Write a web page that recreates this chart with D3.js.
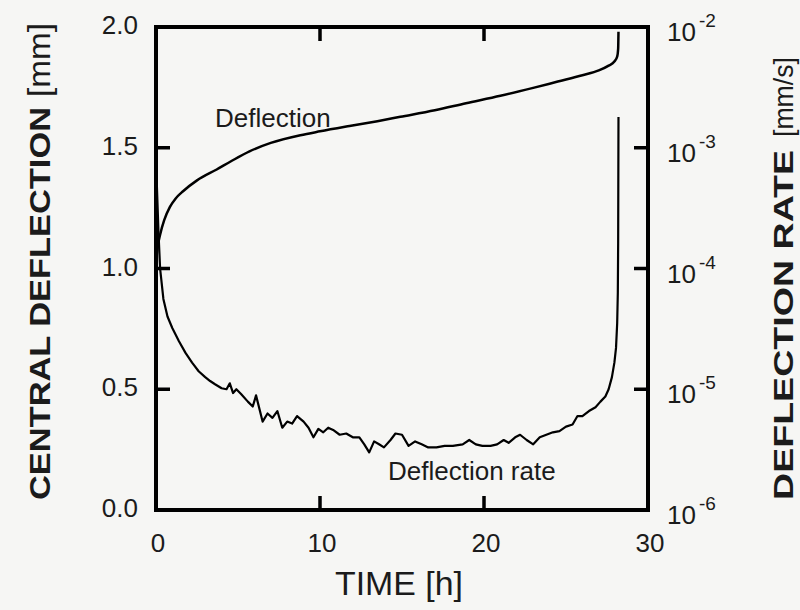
<!DOCTYPE html>
<html>
<head>
<meta charset="utf-8">
<script src="https://cdn.jsdelivr.net/npm/d3@7"></script>
<style>
  html, body { margin: 0; padding: 0; background: #f6f6f4; }
  svg { display: block; font-family: "Liberation Sans", Arial, sans-serif; }
</style>
</head>
<body>
<svg id="chart" width="800" height="610"></svg>
<script>
// ---- data ----
const timeTicks = [0, 10, 20, 30];
const deflTicks = [0.0, 0.5, 1.0, 1.5, 2.0];
const deflTickLabels = ["0.0", "0.5", "1.0", "1.5", "2.0"];
const rateTicks = [1e-6, 1e-5, 1e-4, 1e-3, 1e-2];
const rateTickExponents = ["-6", "-5", "-4", "-3", "-2"];

// central deflection [mm] vs time [h]
const deflTime = [0.0, 0.1, 0.25, 0.5, 0.85, 1.2, 1.65, 2.5, 3.7, 4.6, 5.7, 7.0, 8.8, 10.0, 11.8, 13.5, 14.9, 17.0, 18.9, 21.0, 23.0, 24.5, 26.0, 27.0, 27.6, 27.95, 28.12, 28.18, 28.2];
const deflValue = [1.03, 1.09, 1.14, 1.20, 1.255, 1.29, 1.32, 1.365, 1.41, 1.445, 1.485, 1.52, 1.552, 1.568, 1.59, 1.61, 1.628, 1.655, 1.684, 1.715, 1.748, 1.774, 1.80, 1.82, 1.84, 1.857, 1.877, 1.91, 1.98];

// deflection rate [mm/s] vs time [h]
const rateTime = [0.05, 0.15, 0.25, 0.45, 0.7, 1.0, 1.4, 1.8, 2.2, 2.6, 3.0, 3.3, 3.6, 4.0, 4.3, 4.5, 4.7, 4.9, 5.2, 5.6, 5.9, 6.1, 6.5, 6.8, 7.1, 7.4, 7.7, 8.0, 8.3, 8.6, 9.0, 9.3, 9.6, 9.9, 10.2, 10.5, 10.8, 11.2, 11.6, 12.0, 12.4, 12.7, 13.0, 13.3, 13.6, 13.9, 14.3, 14.6, 15.0, 15.4, 15.8, 16.2, 16.6, 17.1, 17.6, 18.1, 18.7, 19.1, 19.5, 19.9, 20.4, 20.8, 21.2, 21.5, 21.9, 22.2, 22.6, 23.0, 23.4, 23.8, 24.2, 24.6, 25.0, 25.4, 25.7, 26.0, 26.4, 26.8, 27.1, 27.4, 27.6, 27.8, 27.95, 28.05, 28.12, 28.16, 28.18, 28.2];
const rateValue = [5.0e-4, 2.0e-4, 1.0e-4, 5.6e-5, 4.0e-5, 3.2e-5, 2.5e-5, 2.0e-5, 1.66e-5, 1.41e-5, 1.26e-5, 1.17e-5, 1.10e-5, 1.02e-5, 1.00e-5, 1.12e-5, 9.3e-6, 1.0e-5, 9.1e-6, 7.9e-6, 7.2e-6, 8.9e-6, 5.4e-6, 6.3e-6, 5.8e-6, 6.6e-6, 4.8e-6, 5.4e-6, 5.2e-6, 6.0e-6, 5.4e-6, 4.8e-6, 4.0e-6, 4.7e-6, 4.4e-6, 4.8e-6, 4.6e-6, 4.2e-6, 4.3e-6, 4.0e-6, 4.0e-6, 3.5e-6, 3.0e-6, 3.7e-6, 3.5e-6, 3.3e-6, 3.8e-6, 4.3e-6, 4.2e-6, 3.4e-6, 3.7e-6, 3.5e-6, 3.3e-6, 3.3e-6, 3.4e-6, 3.4e-6, 3.5e-6, 3.8e-6, 3.5e-6, 3.4e-6, 3.4e-6, 3.5e-6, 3.8e-6, 3.6e-6, 4.0e-6, 4.2e-6, 3.8e-6, 3.5e-6, 4.0e-6, 4.2e-6, 4.4e-6, 4.5e-6, 4.9e-6, 5.1e-6, 6.0e-6, 6.0e-6, 6.6e-6, 7.1e-6, 7.9e-6, 8.7e-6, 1.0e-5, 1.26e-5, 1.66e-5, 2.2e-5, 3.5e-5, 6.3e-5, 1.6e-4, 1.8e-3];

// ---- layout ----
const L = 156, R = 648, T = 27, B = 510;
const svg = d3.select("#chart");

const x = d3.scaleLinear().domain([0, 30]).range([L, R]);
const yL = d3.scaleLinear().domain([0, 2]).range([B, T]);
const yR = d3.scaleLog().domain([1e-6, 1e-2]).range([B, T]);

// frame
svg.append("rect").attr("x", L).attr("y", T).attr("width", R - L).attr("height", B - T)
  .attr("fill", "none").attr("stroke", "black").attr("stroke-width", 4);

// inward ticks as filled rectangles
const tickLen = 14, tw = 3.5;
const tg = svg.append("g").attr("fill", "black");
timeTicks.forEach(d => {
  tg.append("rect").attr("x", x(d) - tw / 2).attr("y", B - tickLen).attr("width", tw).attr("height", tickLen);
  tg.append("rect").attr("x", x(d) - tw / 2).attr("y", T).attr("width", tw).attr("height", tickLen);
});
deflTicks.forEach(d => {
  tg.append("rect").attr("x", L).attr("y", yL(d) - tw / 2).attr("width", tickLen).attr("height", tw);
});
rateTicks.forEach(d => {
  tg.append("rect").attr("x", R - tickLen).attr("y", yR(d) - tw / 2).attr("width", tickLen).attr("height", tw);
});

// curves
const deflData = deflTime.map((t, i) => [t, deflValue[i]]);
const rateData = rateTime.map((t, i) => [t, rateValue[i]]);

svg.append("path").datum(deflData)
  .attr("fill", "none").attr("stroke", "black").attr("stroke-width", 2.5)
  .attr("stroke-linejoin", "round")
  .attr("d", d3.line().x(d => x(d[0])).y(d => yL(d[1])).curve(d3.curveMonotoneX));

svg.append("path").datum(rateData)
  .attr("fill", "none").attr("stroke", "black").attr("stroke-width", 2.2)
  .attr("stroke-linejoin", "round")
  .attr("d", d3.line().x(d => x(d[0])).y(d => yR(d[1])));

// tick labels
const ink = "#1b1b1b";
const tickFont = 26;
svg.append("g").selectAll("text").data(timeTicks).join("text")
  .attr("x", d => x(d) + 2).attr("y", 552)
  .attr("text-anchor", "middle").attr("font-size", tickFont).attr("fill", ink)
  .text(d => d);

svg.append("g").selectAll("text").data(deflTicks).join("text")
  .attr("x", 138).attr("y", d => yL(d) + 7)
  .attr("text-anchor", "end").attr("font-size", tickFont).attr("fill", ink)
  .text((d, i) => deflTickLabels[i]);

const rl = svg.append("g").selectAll("text").data(rateTicks).join("text")
  .attr("x", 667).attr("y", d => yR(d) + 14)
  .attr("font-size", tickFont).attr("fill", ink);
rl.append("tspan").text("10");
rl.append("tspan").attr("font-size", 19).attr("dx", 3).attr("dy", -14)
  .text((d, i) => rateTickExponents[i]);

// annotations
svg.append("text").attr("x", 215).attr("y", 127).attr("font-size", 26).attr("fill", ink)
  .text("Deflection");
svg.append("text").attr("x", 388).attr("y", 480).attr("font-size", 26).attr("fill", ink)
  .text("Deflection rate");

// axis titles
svg.append("text").attr("x", 335).attr("y", 595).attr("font-size", 34).attr("fill", ink)
  .attr("textLength", 128).attr("lengthAdjust", "spacingAndGlyphs")
  .text("TIME [h]");

svg.append("text").attr("transform", "translate(50,500) rotate(-90)")
  .attr("font-size", 30).attr("font-weight", "bold").attr("fill", ink)
  .attr("textLength", 393).attr("lengthAdjust", "spacingAndGlyphs")
  .text("CENTRAL DEFLECTION");
svg.append("text").attr("transform", "translate(50,97) rotate(-90)")
  .attr("font-size", 31).attr("fill", ink)
  .attr("textLength", 74).attr("lengthAdjust", "spacingAndGlyphs")
  .text("[mm]");

svg.append("text").attr("transform", "translate(793,500) rotate(-90)")
  .attr("font-size", 28).attr("font-weight", "bold").attr("fill", ink)
  .attr("textLength", 350).attr("lengthAdjust", "spacingAndGlyphs")
  .text("DEFLECTION RATE");
svg.append("text").attr("transform", "translate(793,137) rotate(-90)")
  .attr("font-size", 28).attr("fill", ink)
  .attr("textLength", 80).attr("lengthAdjust", "spacingAndGlyphs")
  .text("[mm/s]");
</script>
</body>
</html>
